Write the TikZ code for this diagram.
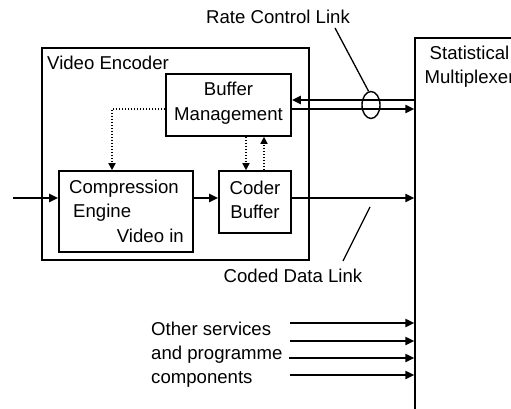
\documentclass[tikz,border=0pt]{standalone}
\usepackage{fontspec}
\setmainfont{Liberation Sans}
\usetikzlibrary{arrows.meta,shapes.geometric}
\begin{document}
\begin{tikzpicture}[x=1pt,y=-1pt,
  font=\fontsize{18.6}{24}\selectfont,
  box/.style={draw,line width=1.6pt,rectangle,inner sep=0pt},
  arr/.style={line width=2pt,-{Triangle[length=9pt,width=8pt]}},
  darr/.style={line width=1.6pt,dash pattern=on 1.6pt off 1.4pt,-{Triangle[length=7pt,width=7pt]}},
  dline/.style={line width=1.6pt,dash pattern=on 1.6pt off 1.4pt},
  txt/.style={inner sep=0pt},
  lead/.style={line width=1.3pt}]
\useasboundingbox (0,0) rectangle (511,409);
\clip (0,0) rectangle (511,409);
% boxes
\node[box,minimum width=267pt,minimum height=212pt] (enc) at (175.5,154) {};
\node[box,minimum width=125pt,minimum height=62pt] (bm) at (228.5,105) {};
\node[box,minimum width=134pt,minimum height=81pt] (ce) at (126,211.5) {};
\node[box,minimum width=72pt,minimum height=62pt] (cb) at (255,202) {};
\node[draw,line width=1.3pt,rectangle,inner sep=0pt,minimum width=140pt,minimum height=420pt] (mux) at (485,248) {};
% texts
\node[txt,anchor=base west] (tve) at (47,70) {Video Encoder};
\node[txt,anchor=base] (tbm1) at (228.5,96) {Buffer};
\node[txt,anchor=base] (tbm2) at (228.5,121) {Management};
\node[txt,anchor=base west] (tce1) at (69,193) {Compression};
\node[txt,anchor=base west] (tce2) at (73,217) {Engine};
\node[txt,anchor=base east] (tce3) at (184,242) {Video in};
\node[txt,anchor=base] (tcb1) at (255,194) {Coder};
\node[txt,anchor=base] (tcb2) at (255,218) {Buffer};
\node[txt,anchor=base] (tsm1) at (469.5,60) {Statistical};
\node[txt,anchor=base] (tsm2) at (469.5,84) {Multiplexer};
\node[txt,anchor=base] (trc) at (278,24) {Rate Control Link};
\node[txt,anchor=base] (tcd) at (293,282) {Coded Data Link};
\node[txt,anchor=base west] (tos1) at (151,335) {Other services};
\node[txt,anchor=base west] (tos2) at (151,359) {and programme};
\node[txt,anchor=base west] (tos3) at (151,383) {components};
% coordinates
\coordinate (in) at (13,198);
\coordinate (ry1) at (0,100);
\coordinate (ry2) at (0,109);
\coordinate (dx) at (112,109);
\coordinate (dd) at (246,0);
\coordinate (du) at (264,0);
\coordinate (rcl) at (335,28);
\coordinate (cdl1) at (370,207);
\coordinate (cdl2) at (343,261);
\coordinate (o1) at (290,323);
\coordinate (o2) at (290,341);
\coordinate (o3) at (289,358);
\coordinate (o4) at (290,375);
% main data path
\draw[arr] (in) -- (in -| ce.west);
\draw[arr] (ce.east |- in) -- (cb.west |- in);
\draw[arr] (cb.east |- in) -- (mux.west |- in);
% rate control link
\draw[arr] (mux.west |- ry1) -- (bm.east |- ry1);
\draw[arr] (bm.east |- ry2) -- (mux.west |- ry2);
\node[draw,ellipse,line width=1.4pt,inner sep=0pt,minimum width=18pt,minimum height=27pt] (ell) at (371,105) {};
\draw[lead] (ell.100) -- (rcl);
\draw[lead] (cdl1) -- (cdl2);
% dotted control
\draw[darr] (bm.west |- dx) -- (dx) -- (dx |- ce.north);
\draw[darr] (bm.south -| dd) -- (cb.north -| dd);
\draw[darr] (cb.north -| du) -- (bm.south -| du);
% other services
\draw[arr] (o1) -- (o1 -| mux.west);
\draw[arr] (o2) -- (o2 -| mux.west);
\draw[arr] (o3) -- (o3 -| mux.west);
\draw[arr] (o4) -- (o4 -| mux.west);
\end{tikzpicture}
\end{document}
